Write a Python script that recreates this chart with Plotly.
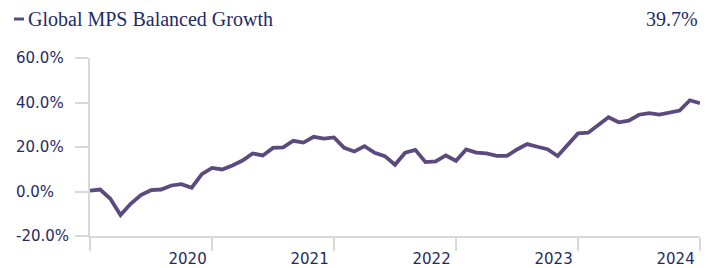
import plotly.graph_objects as go

series_name = "Global MPS Balanced Growth"
last_label = "39.7%"
values = [0.4, 0.9, -3.3, -10.6, -5.5, -1.6, 0.6, 0.9, 2.7, 3.3, 1.7,
          7.8, 10.6, 9.9, 11.7, 13.9, 17.1, 16.2, 19.6, 19.8, 22.8, 22.0,
          24.6, 23.8, 24.3, 19.6, 18.0, 20.4, 17.4, 15.9, 12.0,
          17.4, 18.7, 13.2, 13.5, 16.2, 13.8, 18.9, 17.5, 17.1, 16.0,
          16.0, 18.9, 21.3, 20.1, 19.0, 15.9, 21.3, 26.1, 26.4, 30.0,
          33.4, 31.1, 31.8, 34.5, 35.2, 34.6, 35.6, 36.4, 41.0, 39.7]
year_labels = ["2020", "2021", "2022", "2023", "2024"]
year_ticks = [0, 12, 24, 36, 48, 60]
label_pos = [9.6, 21.6, 33.6, 45.6, 57.6]
y_ticks = [-20, 0, 20, 40, 60]
y_tick_text = ["-20.0%", "0.0%", "20.0%", "40.0%", "60.0%"]

navy = "#1f2b66"
purple = "#5b4a7d"
grey = "#d9d9d9"

# page body has an 8px margin: the figure is shifted by (8, 8)
fig = go.Figure()
fig.add_trace(go.Scatter(x=list(range(len(values))), y=values, mode="lines",
                         line=dict(color=purple, width=3.8), showlegend=False,
                         hoverinfo="skip"))

fig.update_layout(
    width=710, height=260,
    margin=dict(l=82, r=18, t=50, b=32, autoexpand=False),
    paper_bgcolor="white", plot_bgcolor="white",
    xaxis=dict(range=[0, 60], tickvals=label_pos, ticktext=year_labels,
               ticks="", showgrid=False, zeroline=False, automargin=False,
               showline=True, linecolor=grey, linewidth=2,
               tickfont=dict(family="DejaVu Sans", size=15, color=navy),
               ticklabelstandoff=8,
               minor=dict(tickvals=year_ticks, ticks="outside", ticklen=13,
                          tickcolor=grey, tickwidth=2, showgrid=False)),
    yaxis=dict(range=[-20, 60], tickvals=y_ticks, showticklabels=False,
               ticks="outside", ticklen=13, tickcolor=grey, tickwidth=2,
               showgrid=False, zeroline=False, automargin=False,
               showline=True, linecolor=grey, linewidth=2),
)

# left-aligned y tick labels
for v, t in zip(y_ticks, y_tick_text):
    fig.add_annotation(text=t, xref="paper", yref="y", x=-0.124, y=v,
                       xanchor="left", yanchor="middle", showarrow=False,
                       font=dict(family="DejaVu Sans", size=15, color=navy))

fig.add_shape(type="line", xref="paper", yref="paper",
              x0=(14 - 90) / 610, x1=(24 - 90) / 610,
              y0=(268 - 32 - 19) / 178, y1=(268 - 32 - 19) / 178,
              line=dict(color=purple, width=3))
fig.add_annotation(text=series_name, xref="paper", yref="paper",
                   x=(26 - 90) / 610, y=(268 - 32 - 19) / 178,
                   xanchor="left", yanchor="middle", showarrow=False,
                   font=dict(family="Liberation Serif", size=20, color=navy))
fig.add_annotation(text=last_label, xref="paper", yref="paper",
                   x=1.0, y=(268 - 32 - 19) / 178, xanchor="right",
                   yanchor="middle", showarrow=False,
                   font=dict(family="Liberation Serif", size=20, color=navy))

fig.write_html("out.html")
